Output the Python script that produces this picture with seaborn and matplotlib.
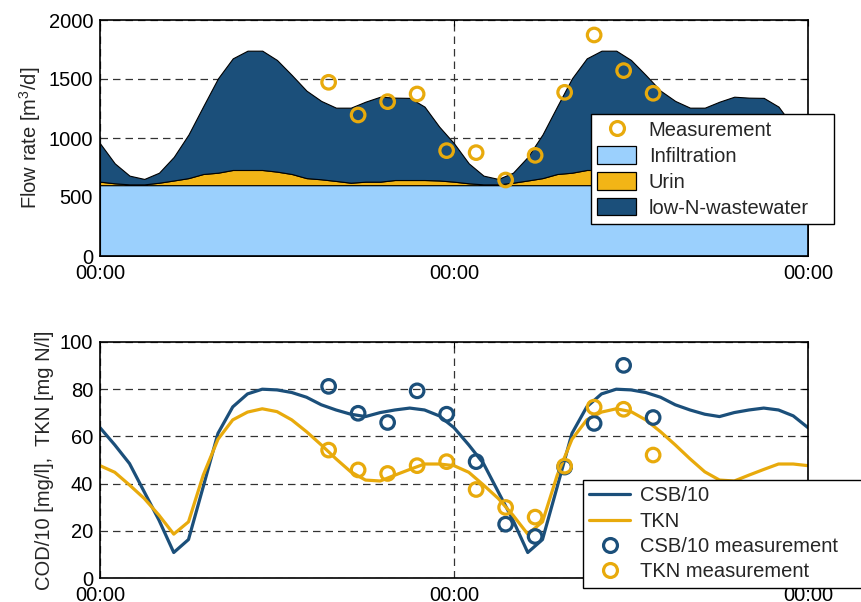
import matplotlib
matplotlib.use("Agg")
import matplotlib.pyplot as plt
import seaborn as sns
import pandas as pd
from matplotlib.lines import Line2D
from matplotlib.patches import Patch

# ---- data -------------------------------------------------------------
hours = list(range(49))  # two days, hourly

infiltration = [600] * 49
urin = [30, 16, 7, 7, 21, 40, 60, 95, 106, 129, 129, 129,
        115, 95, 60, 50, 36, 21, 30, 30, 44, 44, 44, 40,
        30, 16, 7, 7, 21, 40, 60, 95, 106, 129, 129, 129,
        115, 95, 60, 50, 36, 21, 30, 30, 44, 44, 44, 40,
        30]
low_n_wastewater = [325, 169, 74, 46, 85, 200, 370, 575, 800, 946, 1011, 1011,
                    946, 839, 741, 664, 621, 636, 678, 720, 698, 696, 622, 456,
                    325, 169, 74, 46, 85, 200, 370, 575, 800, 946, 1011, 1011,
                    946, 839, 741, 664, 621, 636, 678, 720, 698, 696, 622, 456,
                    325]

csb10 = [63.7, 56.4, 48.5, 36.5, 24.5, 10.8, 16.3, 38.7, 61.3, 72.5, 78.0, 80.0,
         79.7, 78.6, 76.6, 73.4, 71.2, 69.4, 68.4, 70.1, 71.2, 72.0, 71.2, 68.7,
         63.7, 56.4, 48.5, 36.5, 24.5, 10.8, 16.3, 38.7, 61.3, 72.5, 78.0, 80.0,
         79.7, 78.6, 76.6, 73.4, 71.2, 69.4, 68.4, 70.1, 71.2, 72.0, 71.2, 68.7,
         63.7]
tkn = [47.6, 44.8, 39.4, 33.7, 26.6, 18.6, 23.8, 43.6, 58.8, 67.0, 70.3, 71.7,
       70.5, 67.0, 62.0, 56.4, 50.5, 45.0, 41.5, 41.1, 43.6, 46.0, 48.3, 48.3,
       47.6, 44.8, 39.4, 33.7, 26.6, 18.6, 23.8, 43.6, 58.8, 67.0, 70.3, 71.7,
       70.5, 67.0, 62.0, 56.4, 50.5, 45.0, 41.5, 41.1, 43.6, 46.0, 48.3, 48.3,
       47.6]

meas_hours = [15.5, 17.5, 19.5, 21.5, 23.5, 25.5, 27.5, 29.5, 31.5, 33.5, 35.5, 37.5]
flow_meas = [1472, 1195, 1308, 1373, 893, 876, 644, 853, 1387, 1873, 1571, 1379]
csb10_meas = [81.2, 69.8, 65.9, 79.3, 69.4, 49.3, 22.8, 17.6, 47.0, 65.5, 90.1, 68.0]
tkn_meas = [54.2, 45.8, 44.3, 47.6, 49.3, 37.5, 29.9, 25.8, 47.4, 72.4, 71.5, 52.1]

xtick_pos = [0, 24, 48]
xtick_labels = ["00:00", "00:00", "00:00"]

# ---- style ------------------------------------------------------------
NAVY = "#1b4f7a"
SKY = "#9bd0fd"
GOLD = "#f2b516"
GOLD_LINE = "#e8aa0c"
FS = 14.5

sns.set_theme(style="white")
plt.rcParams["font.family"] = ["Liberation Sans", "DejaVu Sans"]
plt.rcParams["font.size"] = FS
plt.rcParams["mathtext.fontset"] = "custom"
plt.rcParams["mathtext.rm"] = "Liberation Sans"

fig = plt.figure(figsize=(8.62, 6.02), dpi=100)
ax1 = fig.add_axes([100 / 862, 1 - 256 / 602, 708 / 862, 236 / 602])
ax2 = fig.add_axes([100 / 862, 1 - 578 / 602, 708 / 862, 236 / 602])

grid_kw = dict(color="#333333", linestyle=(0, (6, 4)), linewidth=0.9)

def style_axes(ax, yticks):
    ax.set_xlim(0, 48)
    ax.set_xticks(xtick_pos)
    ax.set_xticklabels(xtick_labels)
    ax.set_yticks(yticks)
    ax.grid(True, **grid_kw)
    ax.set_axisbelow(True)
    ax.tick_params(direction="in", length=4, width=0.8, top=True, right=True,
                   labelsize=FS, colors="black", pad=5)
    ax.tick_params(axis="x", pad=6)
    for s in ax.spines.values():
        s.set_color("black")
        s.set_linewidth(1.2)
    ax.set_xlabel("")

legend_kw = dict(loc="upper left", mode="expand", bbox_transform=fig.transFigure,
                 fontsize=FS, frameon=True, fancybox=False, edgecolor="black",
                 framealpha=1, borderpad=0.32, labelspacing=0.31,
                 borderaxespad=0)

# ---- flow rate panel ----------------------------------------------------
ax1.stackplot(hours, infiltration, urin, low_n_wastewater,
              colors=[SKY, GOLD, NAVY], edgecolor="black", linewidth=0.8)
sns.scatterplot(x=meas_hours, y=flow_meas, ax=ax1, marker="o", s=95,
                facecolor="none", edgecolor=GOLD_LINE, linewidth=2.3, zorder=5)
ax1.set_ylim(0, 2000)
style_axes(ax1, [0, 500, 1000, 1500, 2000])
ax1.set_ylabel("Flow rate [m$^3$/d]", fontsize=FS)

h_meas = Line2D([], [], linestyle="none", marker="o", markersize=10,
                markerfacecolor="none", markeredgecolor=GOLD_LINE, markeredgewidth=2.3)
handles1 = [h_meas,
            Patch(facecolor=SKY, edgecolor="black", linewidth=0.9),
            Patch(facecolor=GOLD, edgecolor="black", linewidth=0.9),
            Patch(facecolor=NAVY, edgecolor="black", linewidth=0.9)]
labels1 = ["Measurement", "Infiltration", "Urin", "low-N-wastewater"]
leg1 = fig.legend(handles1, labels1,
                  bbox_to_anchor=(591 / 862, 1 - 114 / 602, 243 / 862, 0.0),
                  handlelength=1.9, handleheight=0.95, handletextpad=0.65,
                  **legend_kw)
leg1.get_frame().set_linewidth(1.0)

# ---- concentration panel -----------------------------------------------
conc = pd.DataFrame({"hour": hours, "CSB/10": csb10, "TKN": tkn})
sns.lineplot(data=conc, x="hour", y="CSB/10", ax=ax2, color=NAVY, linewidth=2.3)
sns.lineplot(data=conc, x="hour", y="TKN", ax=ax2, color=GOLD_LINE, linewidth=2.3)
sns.scatterplot(x=meas_hours, y=csb10_meas, ax=ax2, marker="o", s=95,
                facecolor="none", edgecolor=NAVY, linewidth=2.3, zorder=5)
sns.scatterplot(x=meas_hours, y=tkn_meas, ax=ax2, marker="o", s=95,
                facecolor="none", edgecolor=GOLD_LINE, linewidth=2.3, zorder=6)
ax2.set_ylim(0, 100)
style_axes(ax2, [0, 20, 40, 60, 80, 100])
ax2.set_ylabel("COD/10 [mg/l],  TKN [mg N/l]", fontsize=FS)

handles2 = [Line2D([], [], color=NAVY, linewidth=2.3),
            Line2D([], [], color=GOLD_LINE, linewidth=2.3),
            Line2D([], [], linestyle="none", marker="o", markersize=10,
                   markerfacecolor="none", markeredgecolor=NAVY, markeredgewidth=2.3),
            Line2D([], [], linestyle="none", marker="o", markersize=10,
                   markerfacecolor="none", markeredgecolor=GOLD_LINE, markeredgewidth=2.3)]
labels2 = ["CSB/10", "TKN", "CSB/10 measurement", "TKN measurement"]
leg2 = fig.legend(handles2, labels2,
                  bbox_to_anchor=(583 / 862, 1 - 480 / 602, 300 / 862, 0.0),
                  handlelength=2.0, handletextpad=0.5, **legend_kw)
leg2.get_frame().set_linewidth(1.0)

fig.savefig("out.png", dpi=100)
